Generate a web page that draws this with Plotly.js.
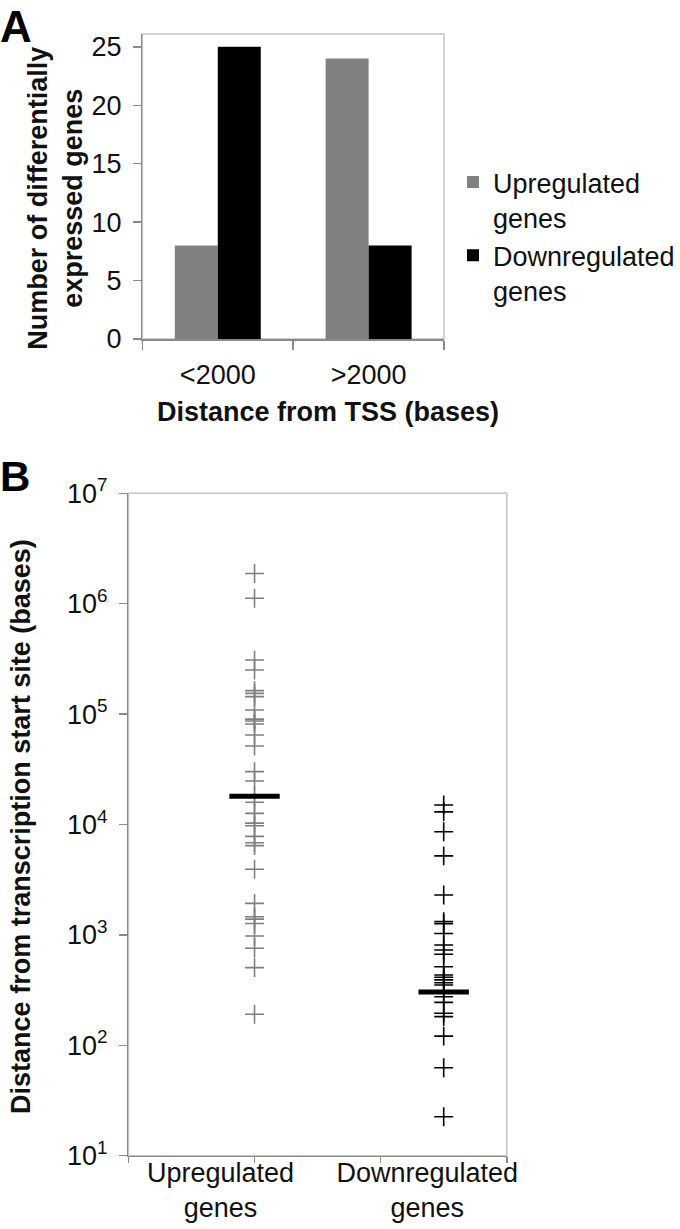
<!DOCTYPE html>
<html>
<head>
<meta charset="utf-8">
<script src="https://cdn.plot.ly/plotly-3.0.1.min.js"></script>
<style>
  html, body { margin: 0; padding: 0; background: #fff; }
  #chart { width: 680px; height: 1229px; }
</style>
</head>
<body>
<div id="chart"></div>
<script>
// ---------- Panel A data ----------
const barCategories = ['<2000', '>2000'];
const upCounts = [8, 24];
const downCounts = [25, 8];
const barTicks = [0, 5, 10, 15, 20, 25];
const legendNames = ['Upregulated<br>genes', 'Downregulated<br>genes'];

// ---------- Panel B data ----------
const groupNames = ['Upregulated<br>genes', 'Downregulated<br>genes'];
const groupX = [1, 2.5];
const upDistances = [1880000, 1120000, 309000, 251000, 163000, 154000, 144000, 109000,
  90000, 86600, 81300, 64700, 51400, 30100, 24800, 18000, 15900, 12600, 10300, 9750,
  7800, 6840, 6430, 3930, 1930, 1460, 1390, 1270, 977, 757, 505, 191];
const downDistances = [15000, 13000, 8600, 5200, 2300, 1320, 1260, 1030, 811, 730, 667,
  515, 433, 413, 391, 369, 352, 275, 245, 195, 182, 121, 62.7, 22.5];
const medians = [18000, 304];
const logTickPowers = [1, 2, 3, 4, 5, 6, 7];
const xTickUnits = [0, 1, 2, 3];

const FONT = 'Liberation Sans, Arial, sans-serif';
const AXIS_GRAY = '#898989';
const FRAME_GRAY = '#c4c4c4';
const W = 680, H = 1229;

const pxX = (a, b) => [a / W, b / W];
const pxY = (top, bottom) => [1 - bottom / H, 1 - top / H];

const traces = [
  { type: 'bar', name: legendNames[0], x: barCategories, y: upCounts,
    marker: { color: '#808080' }, xaxis: 'x', yaxis: 'y' },
  { type: 'bar', name: legendNames[1], x: barCategories, y: downCounts,
    marker: { color: '#000000' }, xaxis: 'x', yaxis: 'y' },
  { type: 'scatter', mode: 'markers', showlegend: false,
    x: upDistances.map(() => groupX[0]), y: upDistances,
    marker: { symbol: 'cross-thin', size: 13.5, color: '#7f7f7f', line: { color: '#7f7f7f', width: 1.6 } },
    xaxis: 'x2', yaxis: 'y2' },
  { type: 'scatter', mode: 'markers', showlegend: false,
    x: downDistances.map(() => groupX[1]), y: downDistances,
    marker: { symbol: 'cross-thin', size: 13.5, color: '#000', line: { color: '#000', width: 1.6 } },
    xaxis: 'x2', yaxis: 'y2' },
  { type: 'scatter', mode: 'markers', showlegend: false,
    x: groupX, y: medians,
    marker: { symbol: 'line-ew', size: 36, color: '#000', line: { color: '#000', width: 5 } },
    xaxis: 'x2', yaxis: 'y2' },
  // invisible carrier so the label axis (x3) is drawn
  { type: 'scatter', mode: 'markers', showlegend: false, hoverinfo: 'skip',
    x: groupX, y: medians, marker: { opacity: 0 }, xaxis: 'x3', yaxis: 'y2' }
];

const tickFont = { family: FONT, size: 27, color: '#111' };
const titleFont = { family: FONT, size: 27, color: '#111' };

const layout = {
  width: W, height: H,
  margin: { l: 0, r: 0, t: 0, b: 0 },
  paper_bgcolor: '#fff', plot_bgcolor: 'rgba(0,0,0,0)',
  barmode: 'group', bargap: 0.43, bargroupgap: 0,
  showlegend: true,
  legend: { x: 455 / W, xanchor: 'left', y: 1 - 158 / H, yanchor: 'top',
    font: { family: FONT, size: 27, color: '#111' }, valign: 'top',
    bgcolor: 'rgba(0,0,0,0)', tracegroupgap: 0, itemwidth: 30 },
  xaxis: { domain: pxX(143, 446), anchor: 'y', type: 'category',
    showline: true, linecolor: AXIS_GRAY, linewidth: 1.5,
    ticks: 'outside', ticklen: 9, tickcolor: AXIS_GRAY, tickwidth: 1.5,
    tickson: 'boundaries', showgrid: false, zeroline: false,
    tickfont: tickFont, automargin: false, ticklabelstandoff: 11 },
  yaxis: { domain: pxY(34, 339), anchor: 'x', range: [0, 26.1],
    tickvals: barTicks, showline: true, linecolor: AXIS_GRAY, linewidth: 1.5,
    ticks: 'outside', ticklen: 8, tickcolor: AXIS_GRAY, tickwidth: 1.5,
    showgrid: false, zeroline: false, tickfont: tickFont, automargin: false,
    ticklabelstandoff: 6 },
  xaxis2: { domain: pxX(129, 509), anchor: 'y2', range: [0, 3],
    tickvals: xTickUnits, ticktext: xTickUnits.map(() => ''),
    showline: true, linecolor: AXIS_GRAY, linewidth: 1.5,
    ticks: 'outside', ticklen: 6, tickcolor: AXIS_GRAY, tickwidth: 1.5,
    showgrid: false, zeroline: false, automargin: false },
  xaxis3: { domain: pxX(129, 509), anchor: 'y2', overlaying: 'x2', range: [0, 3],
    tickvals: [0.73, 2.37], ticktext: groupNames, ticks: '', showline: false,
    showgrid: false, zeroline: false, tickfont: tickFont, automargin: false,
    ticklabelstandoff: -2 },
  yaxis2: { domain: pxY(493.3, 1155.7), anchor: 'x2', type: 'log', range: [1, 7],
    tickvals: logTickPowers.map(p => Math.pow(10, p)),
    ticktext: logTickPowers.map(p => '10<sup>' + p + '</sup>'),
    showline: true, linecolor: AXIS_GRAY, linewidth: 1.5,
    ticks: 'outside', ticklen: 8, tickcolor: AXIS_GRAY, tickwidth: 1.5,
    showgrid: false, zeroline: false, tickfont: tickFont, automargin: false,
    ticklabelstandoff: 6 },
  shapes: [
    { type: 'rect', xref: 'x domain', yref: 'y domain', x0: 0, x1: 1, y0: 0, y1: 1,
      line: { color: FRAME_GRAY, width: 1.5 }, layer: 'below' },
    { type: 'rect', xref: 'x2 domain', yref: 'y2 domain', x0: 0, x1: 1, y0: 0, y1: 1,
      line: { color: FRAME_GRAY, width: 1.5 }, layer: 'below' }
  ],
  annotations: [
    { text: '<b>A</b>', xref: 'paper', yref: 'paper', x: 0, y: 1, xanchor: 'left', yanchor: 'top',
      showarrow: false, font: { family: FONT, size: 44, color: '#000' }, xshift: -2, yshift: 0 },
    { text: '<b>B</b>', xref: 'paper', yref: 'paper', x: 0, y: 1 - 455 / H, xanchor: 'left', yanchor: 'top',
      showarrow: false, font: { family: FONT, size: 42, color: '#000' }, xshift: -2, yshift: 4 },
    { text: '<b>Number of differentially<br>expressed genes</b>', xref: 'paper', yref: 'paper',
      x: 55 / W, y: 1 - 198 / H, xanchor: 'center', yanchor: 'middle', textangle: -90,
      showarrow: false, font: titleFont },
    { text: '<b>Distance from TSS (bases)</b>', xref: 'paper', yref: 'paper',
      x: 329 / W, y: 1 - 412 / H, xanchor: 'center', yanchor: 'middle',
      showarrow: false, font: titleFont },
    { text: '<b>Distance from transcription start site (bases)</b>', xref: 'paper', yref: 'paper',
      x: 21 / W, y: 1 - 826 / H, xanchor: 'center', yanchor: 'middle', textangle: -90,
      showarrow: false, font: titleFont }
  ]
};

Plotly.newPlot('chart', traces, layout, { displayModeBar: false, staticPlot: true });
</script>
</body>
</html>
